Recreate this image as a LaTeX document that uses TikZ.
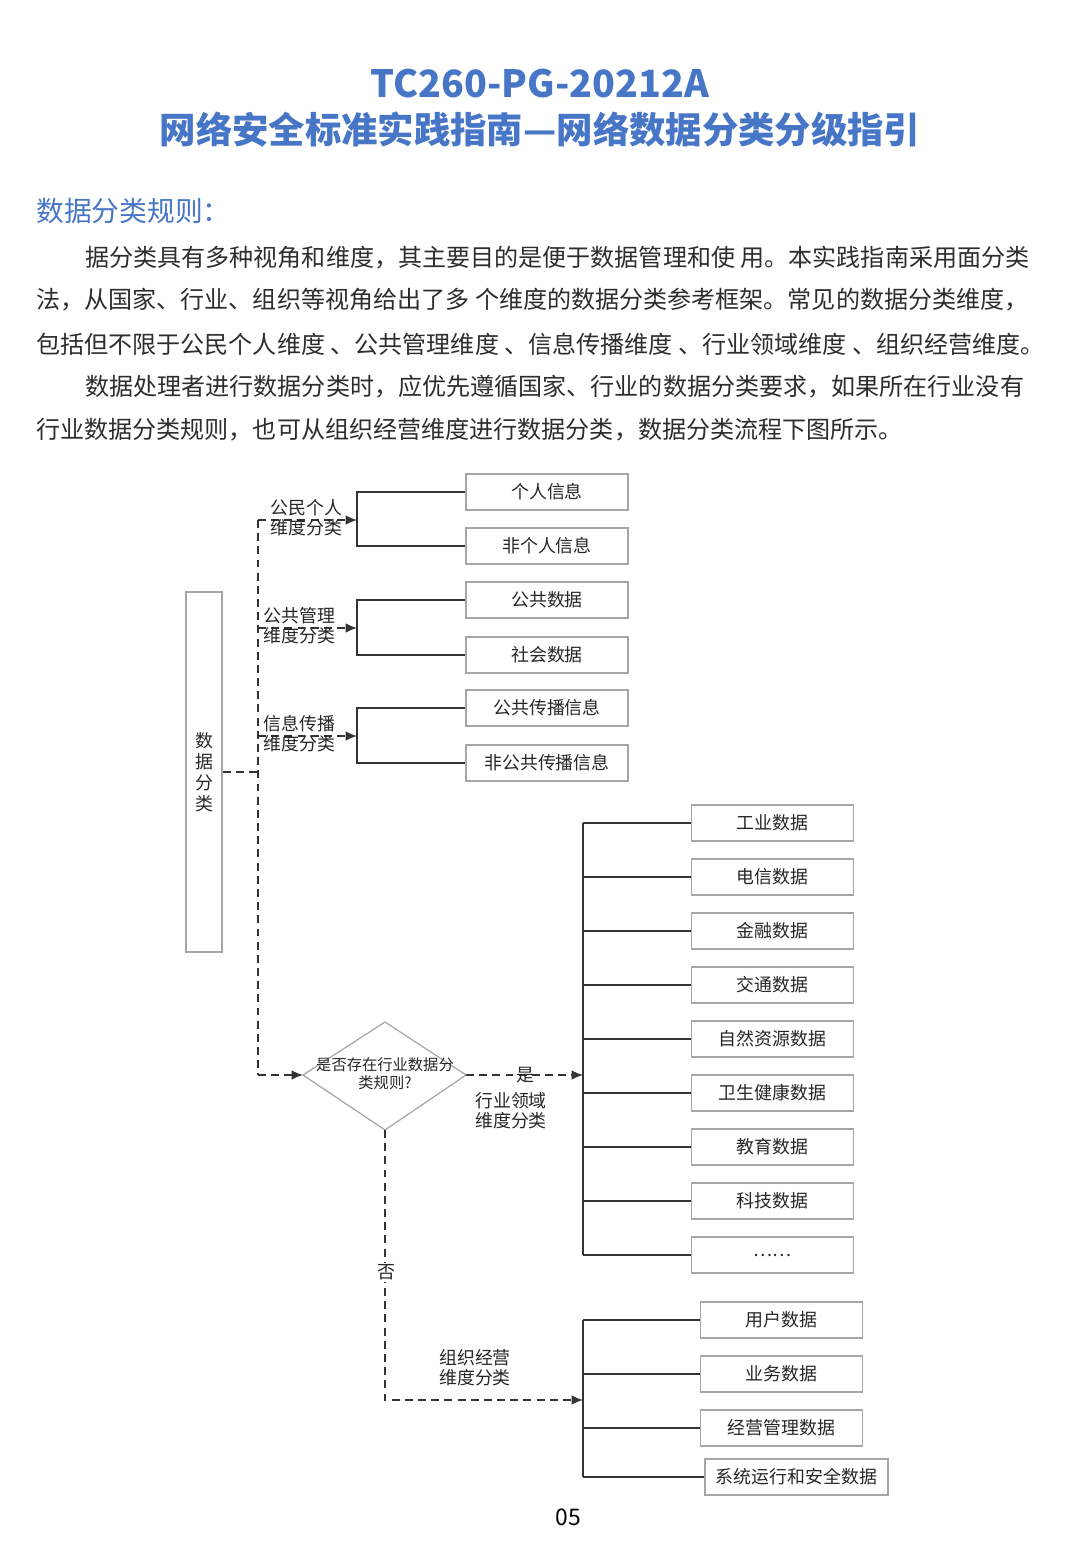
\documentclass[tikz,border=0pt]{standalone}
\usepackage{fontspec}
\setmainfont{Noto Sans CJK SC}
\usetikzlibrary{positioning, calc, arrows.meta}
\definecolor{titleblue}{RGB}{72,118,198}
\definecolor{bodygray}{RGB}{45,45,45}

\begin{document}
\begin{tikzpicture}[x=0.02cm, y=-0.02cm,
        leaf/.style={draw=gray!70, line width=0.7pt, minimum width=3.24cm, minimum height=0.72cm,
            inner sep=0pt, font=\fontsize{10.2}{12}\selectfont, text=black!85},
        dimlabel/.style={align=left, inner sep=0pt, font=\fontsize{10.2}{11.4}\selectfont, text=black!85},
        dashline/.style={line width=0.8pt, black!80, dash pattern=on 4.5pt off 3pt},
        link/.style={line width=0.9pt, black!80},
        tip/.style={-{Latex[length=6.5pt,width=5.5pt]}},
        bodyline/.style={anchor=west, inner sep=0pt, text=bodygray, font=\fontsize{13.7}{16}\selectfont}]
        \useasboundingbox (0,0) rectangle (1080,1560);

        % title
        \node[text=titleblue, font=\bfseries\fontsize{21.4}{26}\selectfont] (title) at (540,84) {TC260-PG-20212A};
        \node[text=titleblue, font=\bfseries\fontsize{20.7}{24}\selectfont] (subtitle) at (540,130) {网络安全标准实践指南—网络数据分类分级指引};

        % heading and text
        \node[anchor=west, inner sep=0pt, text=titleblue, font=\fontsize{15.8}{18}\selectfont] (head) at (36,211) {数据分类规则：};
        \foreach \y/\x/\t [count=\i] in {258/85/据分类具有多种视角和维度，其主要目的是便于数据管理和使 用。本实践指南采用面分类,
                300/36/法，从国家、行业、组织等视角给出了多 个维度的数据分类参考框架。常见的数据分类维度，,
                344/36/包括但不限于公民个人维度 、公共管理维度 、信息传播维度 、行业领域维度 、组织经营维度。,
                387/85/数据处理者进行数据分类时，应优先遵循国家、行业的数据分类要求，如果所在行业没有,
                430/36/行业数据分类规则，也可从组织经营维度进行数据分类，数据分类流程下图所示。}
            \node[bodyline] (line\i) at (\x,\y) {\t};

        % the root box
        \node[draw=gray!70, line width=0.7pt, minimum width=0.72cm, minimum height=7.2cm, inner sep=0pt,
            align=center, text=black!85, font=\fontsize{10.2}{12}\selectfont] (root) at (204,772) {数\\据\\分\\类};

        \coordinate (t1) at (258,520);
        \coordinate (t2) at (258,628);
        \coordinate (t3) at (258,736);
        \coordinate (t4) at (258,1075);
        \coordinate (g1) at (357,520);
        \coordinate (g2) at (357,628);
        \coordinate (g3) at (357,736);

        % dashed trunk
        \draw[dashline] (root.east) -- (root.east -| t1);
        \draw[dashline] (t1) -- (t4);
        \draw[dashline, tip] (t1) -- (g1);
        \draw[dashline, tip] (t2) -- (g2);
        \draw[dashline, tip] (t3) -- (g3);

        \node[dimlabel, anchor=west] (lab1) at (270,518) {公民个人\\维度分类};
        \node[dimlabel, anchor=west] (lab2) at (263,626) {公共管理\\维度分类};
        \node[dimlabel, anchor=west] (lab3) at (263,734) {信息传播\\维度分类};

        % first three groups
        \node[leaf] (p1) at (547,492) {个人信息};
        \node[leaf] (p2) at (547,546) {非个人信息};
        \node[leaf] (p3) at (547,600) {公共数据};
        \node[leaf] (p4) at (547,655) {社会数据};
        \node[leaf] (p5) at (547,708) {公共传播信息};
        \node[leaf] (p6) at (547,763) {非公共传播信息};
        \draw[link] (p1.west) -| (g1) |- (p2.west);
        \draw[link] (p3.west) -| (g2) |- (p4.west);
        \draw[link] (p5.west) -| (g3) |- (p6.west);

        % the decision
        \coordinate (dl) at (303,1075);
        \coordinate (dt) at (385,1022);
        \coordinate (dr) at (466,1075);
        \coordinate (db) at (385,1130);
        \draw[gray!70, line width=0.7pt] (dl) -- (dt) -- (dr) -- (db) -- cycle;
        \node[align=center, inner sep=0pt, text=black!85, font=\fontsize{8.7}{10.2}\selectfont] (ask) at (385,1074) {是否存在行业数据分\\类规则?};
        \draw[dashline, tip] (t4) -- (dl);

        % industry branch
        \coordinate (h) at (583,1075);
        \draw[dashline, tip] (dr) -- (h);
        \node[dimlabel] (yes) at (525,1075) {是};
        \node[dimlabel] (lab4) at (511,1111) {行业领域\\维度分类};
        \foreach \t [count=\i] in {工业数据, 电信数据, 金融数据, 交通数据, 自然资源数据, 卫生健康数据, 教育数据, 科技数据, {\ldots\ldots}}
        {
            \node[leaf] (i\i) at (772.5,769+54*\i) {\t};
            \draw[link] (i\i.west) -- (i\i.west -| h);
        }
        \draw[link] (i1.west -| h) -- (i9.west -| h);

        % organisation branch
        \coordinate (o) at (583,1400);
        \draw[dashline, tip] (db) |- (o);
        \node[dimlabel, fill=white, inner sep=1pt] (no) at (386,1272) {否};
        \node[dimlabel] (lab5) at (475,1368) {组织经营\\维度分类};
        \node[leaf] (o1) at (781.5,1320) {用户数据};
        \node[leaf] (o2) at (781.5,1374) {业务数据};
        \node[leaf] (o3) at (781.5,1428) {经营管理数据};
        \node[leaf, minimum width=3.66cm] (o4) at (796.5,1477) {系统运行和安全数据};
        \foreach \n in {o1,o2,o3,o4}
            \draw[link] (\n.west) -- (\n.west -| o);
        \draw[link] (o1.west -| o) -- (o4.west -| o);

        % page number
        \node[text=black, font=\fontsize{13}{15}\selectfont] (page) at (568,1517) {05};
    \end{tikzpicture}
\end{document}
